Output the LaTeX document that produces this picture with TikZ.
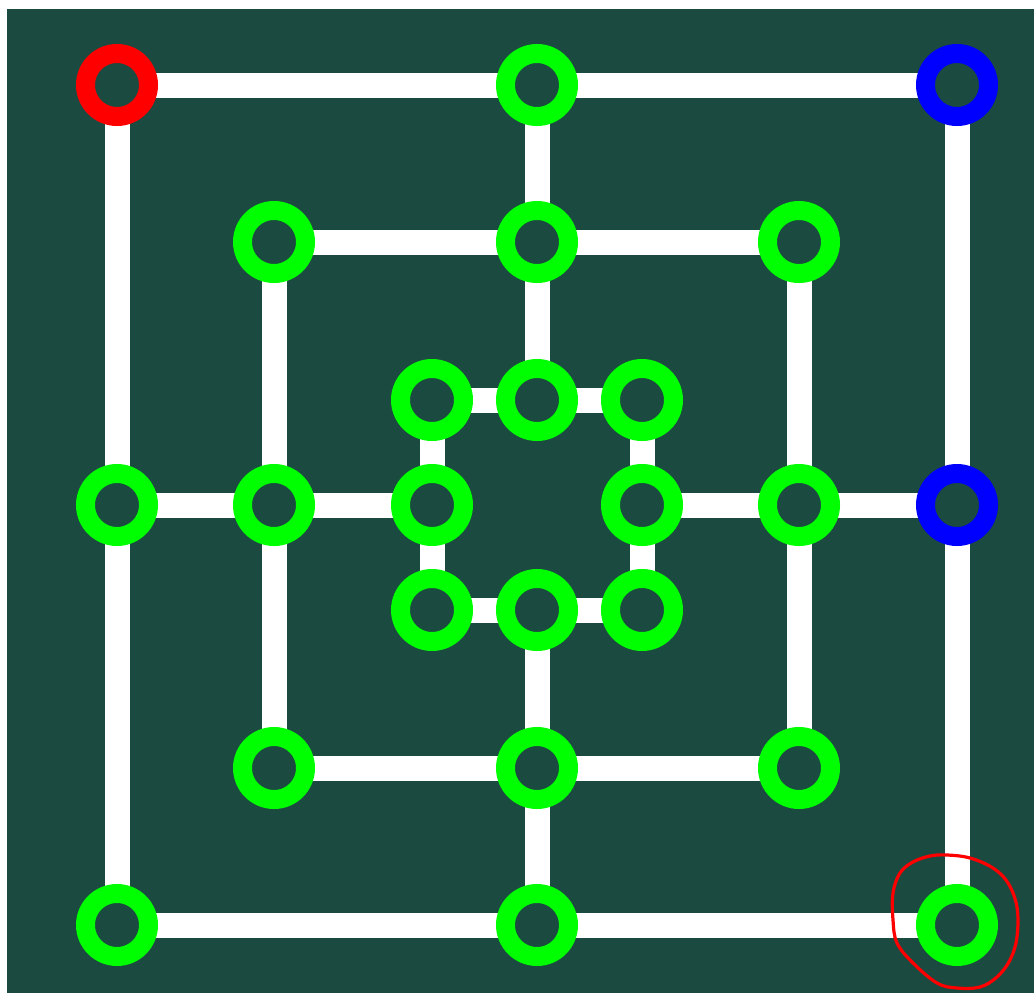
\documentclass[tikz,border=0pt]{standalone}
\definecolor{boardbg}{RGB}{26,74,64}
\definecolor{ringgreen}{RGB}{0,255,0}
\definecolor{ringred}{RGB}{255,0,0}
\definecolor{ringblue}{RGB}{0,0,255}
\pgfdeclarelayer{bg}
\pgfdeclarelayer{lines}
\pgfsetlayers{bg,lines,main}
\begin{document}
\begin{tikzpicture}[x=1pt,y=-1pt,
  spot/.style={circle,draw=ringgreen,fill=boardbg,line width=19pt,minimum size=63pt,inner sep=0pt,outer sep=0pt},
  redspot/.style={spot,draw=ringred},
  bluespot/.style={spot,draw=ringblue},
  track/.style={draw=white,line width=25pt}]
\useasboundingbox (0,0) rectangle (1034,993);
\begin{pgfonlayer}{bg}
\fill[white] (0,0) rectangle (1034,993);
\fill[boardbg] (7,9) rectangle (1034,993);
\end{pgfonlayer}
% outer square
\node[redspot]  (a7) at (117,85) {};
\node[spot]     (d7) at (537,85) {};
\node[bluespot] (g7) at (957,85) {};
\node[spot]     (a4) at (117,505) {};
\node[bluespot] (g4) at (957,505) {};
\node[spot]     (a1) at (117,925) {};
\node[spot]     (d1) at (537,925) {};
\node[spot]     (g1) at (957,925) {};
% middle square
\node[spot] (b6) at (274,242) {};
\node[spot] (d6) at (537,242) {};
\node[spot] (f6) at (799,242) {};
\node[spot] (b4) at (274,505) {};
\node[spot] (f4) at (799,505) {};
\node[spot] (b2) at (274,768) {};
\node[spot] (d2) at (537,768) {};
\node[spot] (f2) at (799,768) {};
% inner square
\node[spot] (c5) at (432,400) {};
\node[spot] (d5) at (537,400) {};
\node[spot] (e5) at (642,400) {};
\node[spot] (c4) at (432,505) {};
\node[spot] (e4) at (642,505) {};
\node[spot] (c3) at (432,610) {};
\node[spot] (d3) at (537,610) {};
\node[spot] (e3) at (642,610) {};
\begin{pgfonlayer}{lines}
\path[track] (a7.center) -- (d7.center) -- (g7.center) -- (g4.center) -- (g1.center) -- (d1.center) -- (a1.center) -- (a4.center) -- cycle;
\path[track] (b6.center) -- (d6.center) -- (f6.center) -- (f4.center) -- (f2.center) -- (d2.center) -- (b2.center) -- (b4.center) -- cycle;
\path[track] (c5.center) -- (d5.center) -- (e5.center) -- (e4.center) -- (e3.center) -- (d3.center) -- (c3.center) -- (c4.center) -- cycle;
\path[track] (d7.center) -- (d6.center) -- (d5.center);
\path[track] (d1.center) -- (d2.center) -- (d3.center);
\path[track] (a4.center) -- (b4.center) -- (c4.center);
\path[track] (g4.center) -- (f4.center) -- (e4.center);
\end{pgfonlayer}
% hand-drawn highlight
\draw[ringred,line width=3.2pt,line join=round] plot[smooth cycle,tension=0.6] coordinates {
 (930,856) (947,855) (970,858) (993,868) (1008,883) (1017,907) (1017,937)
 (1010,960) (997,977) (980,987) (957,988) (937,983) (913,963) (897,943)
 (893,920) (893,893) (900,873) (913,862)};
\end{tikzpicture}
\end{document}
